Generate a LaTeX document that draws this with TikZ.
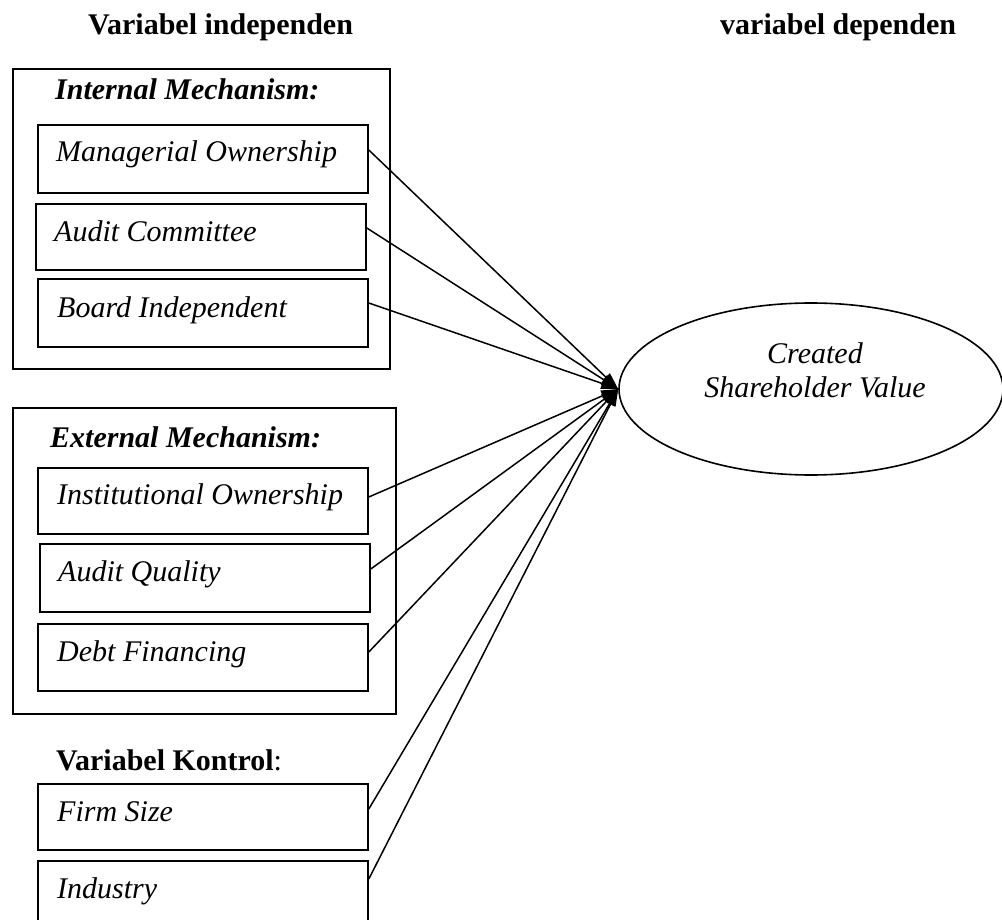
\documentclass[tikz,border=0pt]{standalone}
\usepackage{fontspec}
\setmainfont{Liberation Serif}
\usetikzlibrary{arrows.meta,shapes.geometric}
\newcommand\bigfs{\fontsize{30}{34}\selectfont}
\tikzset{
  varbox/.style={draw, line width=1.8pt, rectangle, minimum width=330pt, minimum height=67pt, inner sep=0pt, anchor=north west},
  groupbox/.style={draw, line width=1.9pt, rectangle, inner sep=0pt, anchor=north west},
  lbl/.style={anchor=base west, inner sep=0pt, font=\bigfs\itshape},
  grp/.style={anchor=base west, inner sep=0pt, font=\bigfs\bfseries\itshape},
  hdr/.style={anchor=base west, inner sep=0pt, font=\bigfs\bfseries},
  conn/.style={line width=1.5pt, -{Triangle[length=17pt,width=11pt]}},
}
\begin{document}
\begin{tikzpicture}[x=1pt,y=-1pt]
\useasboundingbox (0,0) rectangle (1002,920);
\clip (0,0) rectangle (1002,920);
% headers
\node[hdr] (hind) at (88,35) {Variabel independen};
\node[hdr] (hdep) at (720,35) {variabel dependen};
% group boxes
\node[groupbox, minimum width=377pt, minimum height=300pt] (intg) at (12,68) {};
\node[groupbox, minimum width=383pt, minimum height=306pt] (extg) at (12,407) {};
\node[grp] (intl) at (55,100) {Internal Mechanism:};
\node[grp] (extl) at (50,447) {External Mechanism:};
\node[anchor=base west, inner sep=0pt, font=\bigfs] (kon) at (56,770) {\textbf{Variabel Kontrol}:};
% variable boxes
\node[varbox, minimum height=68pt] (mo) at (37,124) {};
\node[varbox, minimum height=66pt] (ac) at (35,203) {};
\node[varbox, minimum height=68pt] (bi) at (37,278) {};
\node[varbox, minimum height=66pt] (io) at (37,467) {};
\node[varbox, minimum height=68pt] (aq) at (39,543) {};
\node[varbox, minimum height=67pt] (df) at (37,623) {};
\node[varbox, minimum height=66pt] (fs) at (37,783) {};
\node[varbox, minimum height=90pt] (ind) at (37,860) {};
\node[lbl] (mot) at (56,162) {Managerial Ownership};
\node[lbl] (act) at (54,242) {Audit Committee};
\node[lbl] (bit) at (57,317) {Board Independent};
\node[lbl] (iot) at (57,504) {Institutional Ownership};
\node[lbl] (aqt) at (58,581) {Audit Quality};
\node[lbl] (dft) at (57,661) {Debt Financing};
\node[lbl] (fst) at (57,821) {Firm Size};
\node[lbl] (indt) at (57,898) {Industry};
% dependent variable
\node[draw, ellipse, line width=1.6pt, minimum width=384pt, minimum height=172pt, inner sep=0pt] (csv) at (811,389) {};
\node[anchor=base, inner sep=0pt, font=\bigfs\itshape] (csv1) at (815,363) {Created};
\node[anchor=base, inner sep=0pt, font=\bigfs\itshape] (csv2) at (815,397) {Shareholder Value};
% connectors
\draw[conn] ([yshift=-26pt]mo.north east) -- (csv.west);
\draw[conn] ([yshift=-25pt]ac.north east) -- (csv.west);
\draw[conn] ([yshift=-25pt]bi.north east) -- (csv.west);
\draw[conn] ([yshift=-30pt]io.north east) -- (csv.west);
\draw[conn] ([yshift=-26pt]aq.north east) -- (csv.west);
\draw[conn] ([yshift=-29pt]df.north east) -- (csv.west);
\draw[conn] ([yshift=-26pt]fs.north east) -- (csv.west);
\draw[conn] ([yshift=-19pt]ind.north east) -- (csv.west);
\end{tikzpicture}
\end{document}
